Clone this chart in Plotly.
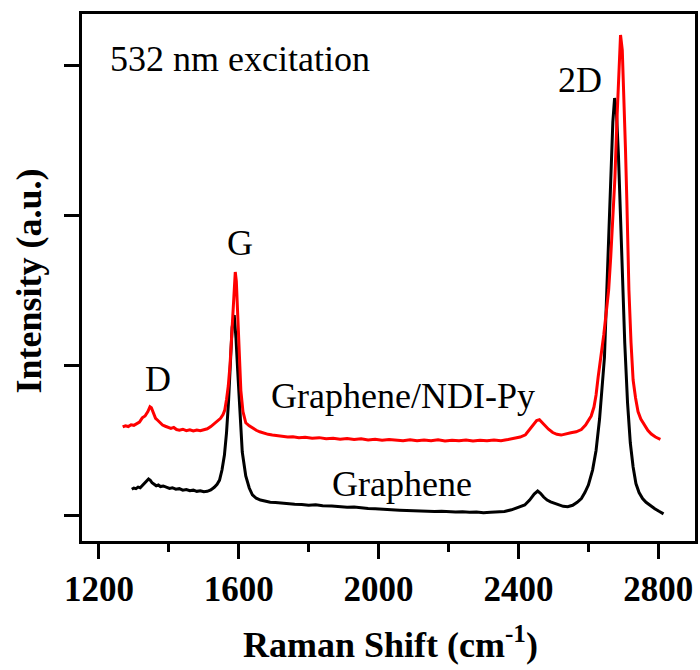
import plotly.graph_objects as go

# ---- Data ----
graphene_x = [1294, 1300, 1306, 1312, 1318, 1324, 1330, 1336, 1342, 1347, 1352, 1358, 1364, 1370, 1376, 1384,
              1393, 1402, 1410, 1420, 1430, 1440, 1450, 1460, 1470, 1480, 1490, 1500, 1510, 1520, 1530, 1538,
              1545, 1552, 1559, 1565, 1571, 1576, 1581, 1587, 1592, 1597, 1603, 1610, 1620, 1630, 1639, 1650,
              1662, 1675, 1690, 1705, 1720, 1740, 1760, 1780, 1800, 1820, 1840, 1866, 1890, 1910, 1930, 1950,
              1970, 1990, 2010, 2037, 2060, 2080, 2100, 2120, 2140, 2160, 2180, 2200, 2220, 2240, 2260, 2280,
              2300, 2320, 2342, 2360, 2380, 2400, 2418, 2432, 2445, 2455, 2463, 2472, 2482, 2492, 2503, 2515,
              2528, 2541, 2555, 2568, 2580, 2590, 2600, 2612, 2622, 2632, 2640, 2646, 2652, 2658, 2664, 2670,
              2675, 2680, 2686, 2692, 2698, 2704, 2712, 2720, 2728, 2736, 2745, 2755, 2765, 2778, 2790, 2802,
              2815]
graphene_y = [172, 180, 176, 186, 182, 196, 205, 222, 240, 232, 215, 205, 195, 200, 190, 194,
              185, 178, 182, 172, 176, 166, 170, 162, 166, 158, 162, 155, 158, 168, 185, 205,
              233, 300, 400, 550, 767, 1000, 1250, 1333, 1180, 960, 740, 420, 260, 180, 135, 112,
              100, 92, 86, 84, 80, 76, 72, 70, 66, 68, 62, 60, 56, 52, 54, 48,
              44, 42, 38, 33, 32, 30, 28, 30, 26, 24, 26, 22, 20, 22, 18, 20,
              16, 18, 20, 24, 35, 50, 67, 100, 140, 160, 145, 120, 100, 88, 80, 68,
              58, 55, 65, 85, 110, 150, 200, 300, 430, 640, 850, 1050, 1450, 1850, 2250, 2620,
              2780, 2700, 2400, 1950, 1550, 1150, 750, 480, 320, 210, 150, 110, 85, 60, 42, 25,
              8]

ndi_x = [1268, 1276, 1284, 1292, 1300, 1308, 1316, 1324, 1332, 1340, 1346, 1350, 1356, 1362, 1368, 1374,
         1382, 1390, 1398, 1406, 1414, 1422, 1430, 1440, 1450, 1460, 1470, 1480, 1490, 1500, 1510, 1520,
         1530, 1540, 1548, 1555, 1560, 1565, 1570, 1575, 1579, 1583, 1587, 1590, 1593, 1597, 1601, 1606,
         1612, 1620, 1630, 1640, 1650, 1660, 1672, 1684, 1696, 1710, 1725, 1740, 1755, 1772, 1790, 1810,
         1830, 1850, 1870, 1890, 1910, 1930, 1950, 1970, 1990, 2010, 2030, 2050, 2070, 2090, 2110, 2130,
         2150, 2170, 2190, 2210, 2230, 2250, 2270, 2290, 2310, 2330, 2350, 2370, 2390, 2405, 2420, 2432,
         2442, 2452, 2460, 2468, 2476, 2486, 2498, 2510, 2522, 2535, 2550, 2565, 2580, 2592, 2600, 2608,
         2616, 2622, 2628, 2636, 2644, 2652, 2658, 2664, 2670, 2676, 2682, 2687, 2692, 2697, 2702, 2706,
         2710, 2716, 2722, 2728, 2735, 2742, 2750, 2760, 2770, 2780, 2792, 2806]
ndi_y = [587, 595, 590, 602, 598, 612, 620, 648, 660, 690, 722, 715, 680, 645, 632, 620,
         600, 592, 585, 578, 584, 570, 566, 572, 562, 568, 560, 566, 562, 570, 575, 590,
         612, 630, 645, 670, 700, 770, 860, 1000, 1180, 1400, 1580, 1620, 1560, 1320, 1060, 830,
         690, 615, 595, 578, 565, 555, 545, 538, 533, 528, 524, 520, 522, 516, 518, 512,
         516, 508, 512, 505, 510, 503, 508, 500, 505, 498, 503, 500, 496, 502, 495, 500,
         496, 502, 494, 499, 495, 500, 494, 498, 495, 500, 496, 503, 510, 520, 535, 570,
         605, 630, 635, 615, 590, 572, 550, 538, 533, 538, 548, 555, 570, 600, 630, 660,
         720, 800, 920, 1050, 1200, 1370, 1500, 1720, 1950, 2250, 2650, 3000, 3200, 3100, 2800, 2450,
         2100, 1500, 1150, 900, 780, 690, 640, 600, 565, 540, 520, 505]

x_ticks = [1200, 1600, 2000, 2400, 2800]
y_ticks = [0, 1000, 2000, 3000]

SERIF = "Liberation Serif, Times New Roman, serif"

fig = go.Figure()
fig.add_trace(go.Scatter(x=graphene_x, y=graphene_y, mode="lines",
                         line=dict(color="#000000", width=3), name="Graphene"))
fig.add_trace(go.Scatter(x=ndi_x, y=ndi_y, mode="lines",
                         line=dict(color="#FF0000", width=3), name="Graphene/NDI-Py"))

ann_font = dict(family=SERIF, size=36, color="black")
annotations = [
    dict(x=1226, y=3037, text="532 nm excitation", xanchor="left", yanchor="middle"),
    dict(x=1368, y=910, text="D", xanchor="center", yanchor="middle"),
    dict(x=1604, y=1813, text="G", xanchor="center", yanchor="middle"),
    dict(x=2575, y=2900, text="2D", xanchor="center", yanchor="middle"),
    dict(x=2071, y=793, text="Graphene/NDI-Py", xanchor="center", yanchor="middle"),
    dict(x=2068, y=207, text="Graphene", xanchor="center", yanchor="middle"),
]
for a in annotations:
    a.update(xref="x", yref="y", showarrow=False, font=ann_font)

annotations.append(dict(xref="paper", yref="paper", x=-0.086, y=0.493, text="Intensity (a.u.)",
                        textangle=-90, showarrow=False, xanchor="center", yanchor="middle",
                        font=dict(family=SERIF, size=36, color="black", weight="bold")))
annotations.append(dict(xref="paper", yref="paper", x=0.503, y=-0.193,
                        text="Raman Shift (cm<sup>-1</sup>)",
                        showarrow=False, xanchor="center", yanchor="middle",
                        font=dict(family=SERIF, size=36, color="black", weight="bold")))

fig.update_layout(
    width=700, height=670,
    margin=dict(l=82, r=2, t=14, b=129),
    paper_bgcolor="white", plot_bgcolor="white",
    showlegend=False,
    annotations=annotations,
    xaxis=dict(range=[1151.6, 2905], tickvals=x_ticks, ticks="outside", ticklen=15, tickwidth=3,
               tickcolor="black", showline=True, linewidth=3, linecolor="black", mirror=True,
               showgrid=False, zeroline=False,
               tickfont=dict(family=SERIF, size=35, color="black", weight="bold"),
               minor=dict(dtick=200, tick0=1200, ticks="outside", ticklen=8, tickwidth=3,
                          tickcolor="black", showgrid=False)),
    yaxis=dict(range=[-173, 3340], tickvals=y_ticks, ticks="outside", ticklen=15, tickwidth=3,
               tickcolor="black", showline=True, linewidth=3, linecolor="black", mirror=True,
               showgrid=False, zeroline=False, showticklabels=False),
)

fig.write_html("out.html")
